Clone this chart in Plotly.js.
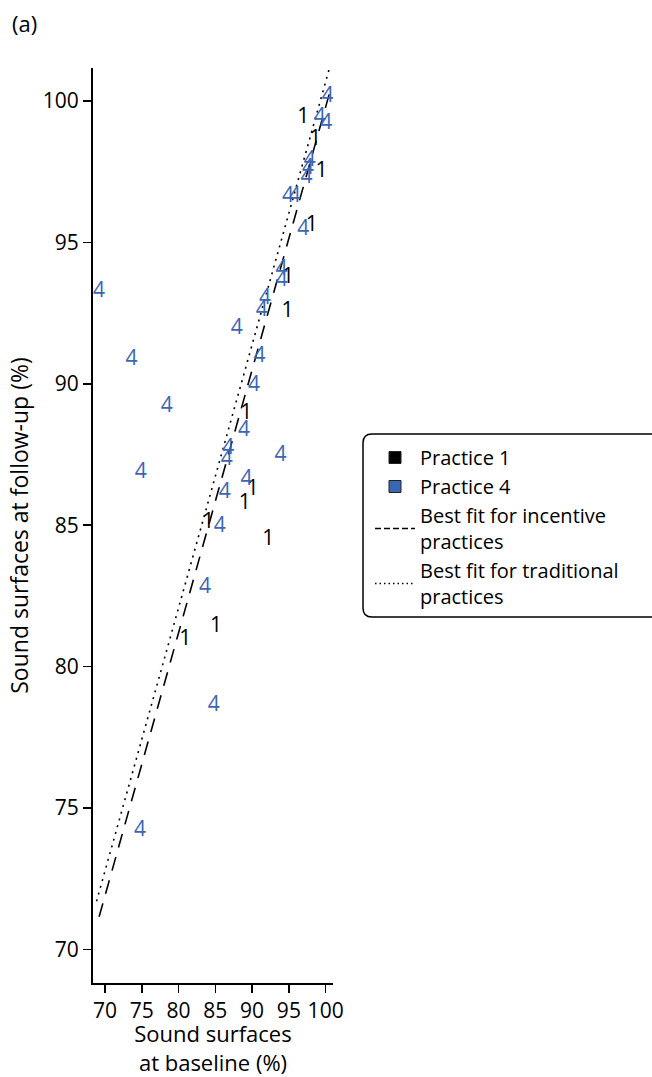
<!DOCTYPE html>
<html>
<head>
<meta charset="utf-8">
<script src="https://cdn.plot.ly/plotly-3.0.1.min.js"></script>
<style>
  html, body { margin: 0; padding: 0; background: #fff; }
  #chart { width: 652px; height: 1077px; }
</style>
</head>
<body>
<div id="chart"></div>
<script>
// Practice 1 (black "1" labels): baseline vs follow-up sound surfaces (%)
const p1Baseline = [96.95, 98.6, 99.45, 98.1, 94.9, 94.8, 89.2, 90.1, 89.0, 84.05, 92.2, 85.1, 80.9];
const p1Followup = [99.4, 98.65, 97.5, 95.6, 93.75, 92.55, 88.95, 86.25, 85.75, 85.1, 84.5, 81.4, 80.95];

// Practice 4 (blue "4" labels)
const p4Baseline = [100.3, 99.2, 100.1, 97.85, 97.6, 97.4, 94.9, 95.8, 96.95, 94.0, 94.05, 91.75, 91.3,
                    87.9, 91.0, 90.25, 69.2, 73.6, 78.4, 74.85, 88.9, 86.75, 86.55, 93.85, 89.25, 86.3,
                    85.6, 83.6, 84.8, 74.75];
const p4Followup = [100.15, 99.4, 99.2, 97.9, 97.6, 97.3, 96.6, 96.6, 95.45, 94.05, 93.65, 93.0, 92.6,
                    91.95, 90.95, 89.95, 93.25, 90.85, 89.2, 86.85, 88.35, 87.7, 87.3, 87.45, 86.6, 86.15,
                    84.95, 82.8, 78.6, 74.2];

// Best-fit lines (end points)
const fitIncentiveX = [69.2, 100.6];
const fitIncentiveY = [71.15, 100.35];
const fitTraditionalX = [68.85, 100.5];
const fitTraditionalY = [71.7, 101.15];

const seriesNames = ["Practice 1", "Practice 4",
                     "Best fit for incentive<br>practices",
                     "Best fit for traditional<br>practices"];
const seriesColors = ["#000000", "#3a66b4"];

const xTicks = [70, 75, 80, 85, 90, 95, 100];
const yTicks = [70, 75, 80, 85, 90, 95, 100];

const FONT = '"Open Sans", "Noto Sans", sans-serif';

const traces = [
  { x: fitIncentiveX, y: fitIncentiveY, mode: 'lines', name: seriesNames[2],
    line: { color: '#000', width: 1.6, dash: '14px,10px' }, showlegend: false, hoverinfo: 'skip' },
  { x: fitTraditionalX, y: fitTraditionalY, mode: 'lines', name: seriesNames[3],
    line: { color: '#000', width: 1.6, dash: '2px,5px' }, showlegend: false, hoverinfo: 'skip' },
  { x: p1Baseline, y: p1Followup, mode: 'text', text: p1Baseline.map(() => '1'),
    textposition: 'middle center', textfont: { family: FONT, size: 21, color: seriesColors[0] },
    name: seriesNames[0], showlegend: false },
  { x: p4Baseline, y: p4Followup, mode: 'text', text: p4Baseline.map(() => '4'),
    textposition: 'middle center', textfont: { family: FONT, size: 21, color: seriesColors[1] },
    name: seriesNames[1], showlegend: false },
  // legend entries
  { x: [null], y: [null], mode: 'markers', name: seriesNames[0],
    marker: { symbol: 'square', size: 12, color: seriesColors[0], line: { color: '#222', width: 1 } } },
  { x: [null], y: [null], mode: 'markers', name: seriesNames[1],
    marker: { symbol: 'square', size: 12, color: seriesColors[1], line: { color: '#222', width: 1 } } },
  { x: [null], y: [null], mode: 'lines', name: seriesNames[2],
    line: { color: '#000', width: 1.4, dash: '6px,3px' } },
  { x: [null], y: [null], mode: 'lines', name: seriesNames[3],
    line: { color: '#000', width: 1.4, dash: '1.5px,3px' } }
];

// plot area in pixels
const L = 93, R = 333, T = 68, B = 983;
const px2x = p => (p - L) / (R - L);
const px2y = p => (B - p) / (B - T);

// rounded legend frame
function roundRect(x0, y0, x1, y1, r) {
  const X = px2x, Y = px2y;
  return `M ${X(x0 + r)} ${Y(y0)} L ${X(x1 - r)} ${Y(y0)} Q ${X(x1)} ${Y(y0)} ${X(x1)} ${Y(y0 + r)} ` +
         `L ${X(x1)} ${Y(y1 - r)} Q ${X(x1)} ${Y(y1)} ${X(x1 - r)} ${Y(y1)} ` +
         `L ${X(x0 + r)} ${Y(y1)} Q ${X(x0)} ${Y(y1)} ${X(x0)} ${Y(y1 - r)} ` +
         `L ${X(x0)} ${Y(y0 + r)} Q ${X(x0)} ${Y(y0)} ${X(x0 + r)} ${Y(y0)} Z`;
}

const layout = {
  width: 652, height: 1077,
  margin: { l: L, r: 652 - R, t: T, b: 1077 - B, autoexpand: false },
  paper_bgcolor: '#fff', plot_bgcolor: '#fff',
  font: { family: FONT, size: 21, color: '#000' },
  showlegend: true,
  legend: {
    x: px2x(370), y: px2y(438), xanchor: 'left', yanchor: 'top',
    bgcolor: 'rgba(0,0,0,0)', borderwidth: 0,
    font: { family: FONT, size: 20, color: '#000' },
    itemwidth: 40, tracegroupgap: 0
  },
  xaxis: {
    range: [68.37, 101.0], tickmode: 'array', tickvals: xTicks, ticktext: xTicks.map(String),
    showgrid: false, zeroline: false, showline: true, linecolor: '#000', linewidth: 2,
    ticks: 'outside', ticklen: 8, tickwidth: 1.5, tickcolor: '#000',
    tickfont: { family: FONT, size: 21, color: '#000' },
    title: { text: 'Sound surfaces<br>at baseline (%)', font: { family: FONT, size: 22, color: '#000' }, standoff: 10 },
    automargin: false, fixedrange: true
  },
  yaxis: {
    range: [68.81, 101.17], tickmode: 'array', tickvals: yTicks, ticktext: yTicks.map(String),
    showgrid: false, zeroline: false, showline: true, linecolor: '#000', linewidth: 2,
    ticks: 'outside', ticklen: 8, tickwidth: 1.5, tickcolor: '#000',
    tickfont: { family: FONT, size: 21, color: '#000' },
    title: { text: 'Sound surfaces at follow-up (%)', font: { family: FONT, size: 23, color: '#000' }, standoff: 8 },
    automargin: false, fixedrange: true
  },
  shapes: [{
    type: 'path', xref: 'paper', yref: 'paper', layer: 'above',
    path: roundRect(363, 434, 665, 617, 9),
    line: { color: '#000', width: 1.5 }, fillcolor: 'rgba(0,0,0,0)'
  }],
  annotations: [{
    text: '(a)', xref: 'paper', yref: 'paper', x: px2x(10), y: px2y(6),
    xanchor: 'left', yanchor: 'top', showarrow: false,
    font: { family: FONT, size: 22, color: '#000' }
  }]
};

Plotly.newPlot('chart', traces, layout, { staticPlot: true, displayModeBar: false });
</script>
</body>
</html>
